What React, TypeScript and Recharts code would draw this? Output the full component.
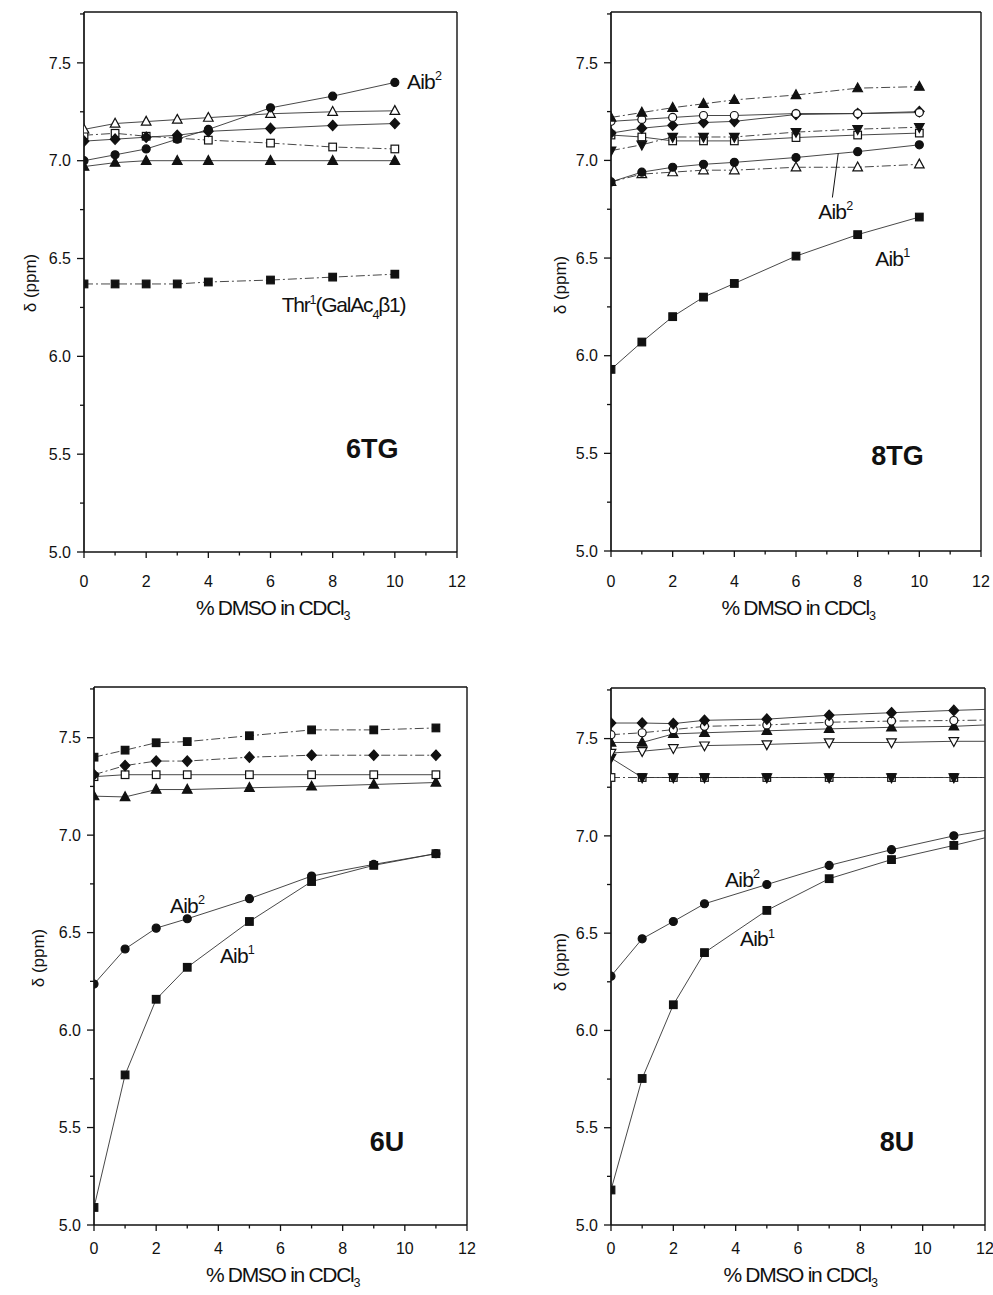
import React from 'react';
import { LineChart, Line, XAxis, YAxis, ReferenceDot, ReferenceLine, Label } from 'recharts';

const FONT = '"Liberation Sans", Arial, Helvetica, sans-serif';
const INK = '#111';
const W = 993;
const H = 1295;
const YW = 60;
const XH = 60;

// ---------- shared axes ----------
const xTicks = [0, 1, 2, 3, 4, 5, 6, 7, 8, 9, 10, 11, 12];
const yTicks = [5, 5.25, 5.5, 5.75, 6, 6.25, 6.5, 6.75, 7, 7.25, 7.5, 7.75];
const Y_DOMAIN = [5, 7.76];

// ---------- 6TG ----------
const tg6X = [0, 1, 2, 3, 4, 6, 8, 10];
const tg6Aib2 = [7.0, 7.03, 7.06, 7.11, 7.16, 7.27, 7.33, 7.40];
const tg6OpenTri = [7.16, 7.19, 7.2, 7.21, 7.22, 7.24, 7.25, 7.255];
const tg6Diamond = [7.1, 7.11, 7.12, 7.13, 7.15, 7.165, 7.18, 7.19];
const tg6OpenSq = [7.13, 7.14, 7.125, 7.115, 7.105, 7.09, 7.07, 7.06];
const tg6Tri = [6.97, 6.99, 7.0, 7.0, 7.0, 7.0, 7.0, 7.0];
const tg6Thr = [6.37, 6.37, 6.37, 6.37, 6.38, 6.39, 6.405, 6.42];

// ---------- 8TG ----------
const tg8X = [0, 1, 2, 3, 4, 6, 8, 10];
const tg8Tri = [7.22, 7.245, 7.27, 7.29, 7.31, 7.335, 7.37, 7.378];
const tg8OpenCircle = [7.2, 7.21, 7.22, 7.23, 7.23, 7.24, 7.24, 7.245];
const tg8Diamond = [7.14, 7.165, 7.18, 7.194, 7.2, 7.235, 7.24, 7.25];
const tg8InvTri = [7.05, 7.08, 7.12, 7.12, 7.12, 7.145, 7.16, 7.17];
const tg8OpenSq = [7.13, 7.12, 7.1, 7.1, 7.1, 7.117, 7.13, 7.14];
const tg8Aib2 = [6.89, 6.94, 6.965, 6.98, 6.99, 7.015, 7.045, 7.08];
const tg8OpenTri = [6.89, 6.93, 6.94, 6.95, 6.95, 6.965, 6.965, 6.98];
const tg8Aib1 = [5.93, 6.07, 6.2, 6.3, 6.37, 6.51, 6.62, 6.71];

// ---------- 6U ----------
const u6X = [0, 1, 2, 3, 5, 7, 9, 11];
const u6Sq = [7.4, 7.436, 7.474, 7.48, 7.51, 7.54, 7.54, 7.55];
const u6Diamond = [7.31, 7.357, 7.38, 7.38, 7.4, 7.41, 7.41, 7.41];
const u6OpenSq = [7.3, 7.31, 7.31, 7.31, 7.31, 7.31, 7.31, 7.31];
const u6Tri = [7.2, 7.196, 7.234, 7.234, 7.243, 7.25, 7.26, 7.27];
const u6Aib2 = [6.236, 6.416, 6.523, 6.571, 6.674, 6.79, 6.85, 6.905];
const u6Aib1 = [5.09, 5.77, 6.158, 6.322, 6.557, 6.762, 6.845, 6.905];

// ---------- 8U (last x = line end at the frame, no marker) ----------
const u8X = [0, 1, 2, 3, 5, 7, 9, 11, 12];
const u8Diamond = [7.58, 7.58, 7.577, 7.594, 7.6, 7.62, 7.633, 7.645, 7.65];
const u8OpenCircle = [7.52, 7.53, 7.546, 7.563, 7.57, 7.584, 7.59, 7.593, 7.595];
const u8Tri = [7.48, 7.48, 7.524, 7.53, 7.54, 7.55, 7.558, 7.563, 7.57];
const u8OpenInvTri = [7.426, 7.435, 7.45, 7.464, 7.47, 7.48, 7.48, 7.486, 7.486];
const u8OpenSq = [7.3, 7.3, 7.3, 7.3, 7.3, 7.3, 7.3, 7.3, 7.3];
const u8InvTri = [7.4, 7.3, 7.3, 7.3, 7.3, 7.3, 7.3, 7.3, 7.3];
const u8Aib2 = [6.279, 6.471, 6.56, 6.651, 6.75, 6.848, 6.929, 7.0, 7.028];
const u8Aib1 = [5.18, 5.753, 6.132, 6.4, 6.617, 6.78, 6.878, 6.951, 6.99];

type Shape = 'circle' | 'square' | 'tri' | 'invTri' | 'diamond';
type Series = { key: string; values: number[]; shape: Shape; filled: boolean; dash?: string };
type Part = { t: string; k?: 'sup' | 'sub' };
type Note = { x: number; y: number; parts: Part[]; size: number; anchor: string; bold?: boolean; spacing?: number };

const DASH = '9 3 2 3';

function Marker({ cx, cy, shape, filled }: { cx: number; cy: number; shape: Shape; filled: boolean }) {
  const common = { fill: filled ? INK : '#fff', stroke: INK, strokeWidth: 1.2 };
  switch (shape) {
    case 'circle':
      return <circle cx={cx} cy={cy} r={4} {...common} />;
    case 'square':
      return <rect x={cx - 3.8} y={cy - 3.8} width={7.6} height={7.6} {...common} />;
    case 'tri':
      return <polygon points={`${cx},${cy - 5.2} ${cx + 4.8},${cy + 3.6} ${cx - 4.8},${cy + 3.6}`} {...common} />;
    case 'invTri':
      return <polygon points={`${cx},${cy + 5.2} ${cx + 4.8},${cy - 3.6} ${cx - 4.8},${cy - 3.6}`} {...common} />;
    case 'diamond':
      return <polygon points={`${cx},${cy - 5.2} ${cx + 4.8},${cy} ${cx},${cy + 5.2} ${cx - 4.8},${cy}`} {...common} />;
  }
  return null;
}

const makeDot = (s: Series) => (p: any) => {
  const { cx, cy, payload, index } = p;
  if (cx == null || cy == null || payload == null || payload.x >= 12) return <g key={`${s.key}-${index}`} />;
  return (
    <g key={`${s.key}-${index}`}>
      <Marker cx={cx} cy={cy} shape={s.shape} filled={s.filled} />
    </g>
  );
};

function RichText({ x, y, parts, size, anchor = 'start', bold = false, spacing = 0, subShift = 0.3 }: any) {
  let cur = 0;
  const kids = parts.map((p: Part, i: number) => {
    const target = p.k === 'sup' ? -0.42 * size : p.k === 'sub' ? subShift * size : 0;
    const dy = target - cur;
    cur = target;
    return (
      <tspan key={i} dy={dy} fontSize={p.k ? size * 0.6 : size}>
        {p.t}
      </tspan>
    );
  });
  return (
    <text x={x} y={y} textAnchor={anchor} fontFamily={FONT} fontSize={size} fontWeight={bold ? 'bold' : 'normal'} letterSpacing={spacing} fill={INK}>
      {kids}
    </text>
  );
}

const makeXTick = (axisY: number, baseline: number) => (props: any) => {
  const { x, payload, index } = props;
  const v = payload.value;
  const major = v % 2 === 0;
  return (
    <g key={`xt-${index}`}>
      <line x1={x} x2={x} y1={axisY} y2={axisY + (major ? 6 : 3.5)} stroke={INK} strokeWidth={1.3} />
      {major && (
        <text x={x} y={baseline} textAnchor="middle" fontFamily={FONT} fontSize={16} fill={INK}>
          {v}
        </text>
      )}
    </g>
  );
};

const makeYTick = (axisX: number) => (props: any) => {
  const { y, payload, index } = props;
  const v = payload.value;
  const major = Math.abs(v * 2 - Math.round(v * 2)) < 1e-6;
  return (
    <g key={`yt-${index}`}>
      <line x1={axisX - (major ? 7 : 4)} x2={axisX} y1={y} y2={y} stroke={INK} strokeWidth={1.3} />
      {major && (
        <text x={axisX - 13} y={y} dy="0.36em" textAnchor="end" fontFamily={FONT} fontSize={16} fill={INK}>
          {v.toFixed(1)}
        </text>
      )}
    </g>
  );
};

type PanelCfg = {
  left: number;
  right: number;
  top: number;
  bottom: number;
  tickBaseline: number;
  titleBaseline: number;
  yLabelX: number;
  yLabelY: number;
  xs: number[];
  series: Series[];
  notes: Note[];
  leader?: { x1: number; y1: number; x2: number; y2: number };
};

const aib = (n: string): Part[] => [{ t: 'Aib' }, { t: n, k: 'sup' }];

const panels: PanelCfg[] = [
  {
    left: 84, right: 457, top: 12, bottom: 552, tickBaseline: 587, titleBaseline: 615, yLabelX: 30, yLabelY: 283,
    xs: tg6X,
    series: [
      { key: 'thr', values: tg6Thr, shape: 'square', filled: true, dash: DASH },
      { key: 'tri', values: tg6Tri, shape: 'tri', filled: true },
      { key: 'osq', values: tg6OpenSq, shape: 'square', filled: false, dash: DASH },
      { key: 'otri', values: tg6OpenTri, shape: 'tri', filled: false },
      { key: 'dia', values: tg6Diamond, shape: 'diamond', filled: true },
      { key: 'aib2', values: tg6Aib2, shape: 'circle', filled: true },
    ],
    notes: [
      { x: 10.39, y: 7.367, parts: aib('2'), size: 21, anchor: 'start', spacing: -0.8 },
      { x: 6.36, y: 6.225, parts: [{ t: 'Thr' }, { t: '1', k: 'sup' }, { t: '(GalAc' }, { t: '4', k: 'sub' }, { t: '\u03b21)' }], size: 21, anchor: 'start', spacing: -1.2 },
      { x: 9.27, y: 5.48, parts: [{ t: '6TG' }], size: 27, anchor: 'middle', bold: true },
    ],
  },
  {
    left: 611, right: 981, top: 12, bottom: 551, tickBaseline: 587, titleBaseline: 615, yLabelX: 560, yLabelY: 285,
    xs: tg8X,
    series: [
      { key: 'aib1', values: tg8Aib1, shape: 'square', filled: true },
      { key: 'otri', values: tg8OpenTri, shape: 'tri', filled: false, dash: DASH },
      { key: 'aib2', values: tg8Aib2, shape: 'circle', filled: true },
      { key: 'osq', values: tg8OpenSq, shape: 'square', filled: false },
      { key: 'itri', values: tg8InvTri, shape: 'invTri', filled: true, dash: DASH },
      { key: 'dia', values: tg8Diamond, shape: 'diamond', filled: true },
      { key: 'ocir', values: tg8OpenCircle, shape: 'circle', filled: false },
      { key: 'tri', values: tg8Tri, shape: 'tri', filled: true, dash: DASH },
    ],
    notes: [
      { x: 6.72, y: 6.7, parts: aib('2'), size: 21, anchor: 'start', spacing: -0.8 },
      { x: 8.57, y: 6.46, parts: aib('1'), size: 21, anchor: 'start', spacing: -0.8 },
      { x: 9.29, y: 5.44, parts: [{ t: '8TG' }], size: 27, anchor: 'middle', bold: true },
    ],
    leader: { x1: 7.37, y1: 7.036, x2: 7.18, y2: 6.81 },
  },
  {
    left: 94, right: 467, top: 687, bottom: 1225, tickBaseline: 1254, titleBaseline: 1282, yLabelX: 38, yLabelY: 958,
    xs: u6X,
    series: [
      { key: 'aib1', values: u6Aib1, shape: 'square', filled: true },
      { key: 'aib2', values: u6Aib2, shape: 'circle', filled: true },
      { key: 'tri', values: u6Tri, shape: 'tri', filled: true },
      { key: 'osq', values: u6OpenSq, shape: 'square', filled: false },
      { key: 'dia', values: u6Diamond, shape: 'diamond', filled: true, dash: DASH },
      { key: 'sq', values: u6Sq, shape: 'square', filled: true, dash: DASH },
    ],
    notes: [
      { x: 2.445, y: 6.603, parts: aib('2'), size: 21, anchor: 'start', spacing: -0.8 },
      { x: 4.05, y: 6.343, parts: aib('1'), size: 21, anchor: 'start', spacing: -0.8 },
      { x: 9.43, y: 5.38, parts: [{ t: '6U' }], size: 27, anchor: 'middle', bold: true },
    ],
  },
  {
    left: 611, right: 985, top: 688, bottom: 1225, tickBaseline: 1254, titleBaseline: 1282, yLabelX: 560, yLabelY: 962,
    xs: u8X,
    series: [
      { key: 'aib1', values: u8Aib1, shape: 'square', filled: true },
      { key: 'aib2', values: u8Aib2, shape: 'circle', filled: true },
      { key: 'osq', values: u8OpenSq, shape: 'square', filled: false, dash: DASH },
      { key: 'itri', values: u8InvTri, shape: 'invTri', filled: true },
      { key: 'oitri', values: u8OpenInvTri, shape: 'invTri', filled: false },
      { key: 'tri', values: u8Tri, shape: 'tri', filled: true },
      { key: 'ocir', values: u8OpenCircle, shape: 'circle', filled: false, dash: DASH },
      { key: 'dia', values: u8Diamond, shape: 'diamond', filled: true },
    ],
    notes: [
      { x: 3.66, y: 6.737, parts: aib('2'), size: 21, anchor: 'start', spacing: -0.8 },
      { x: 4.14, y: 6.432, parts: aib('1'), size: 21, anchor: 'start', spacing: -0.8 },
      { x: 9.18, y: 5.38, parts: [{ t: '8U' }], size: 27, anchor: 'middle', bold: true },
    ],
  },
];

function Panel({ cfg }: { cfg: PanelCfg }) {
  const rows = cfg.xs.map((x, i) => {
    const r: any = { x };
    cfg.series.forEach((s) => {
      r[s.key] = s.values[i];
    });
    return r;
  });
  const titleX = (cfg.left + cfg.right) / 2 + 2;
  return (
    <div style={{ position: 'absolute', left: 0, top: 0, width: W, height: H }}>
      <LineChart
        width={W}
        height={H}
        data={rows}
        margin={{ top: cfg.top, left: cfg.left - YW, right: W - cfg.right, bottom: H - cfg.bottom - XH }}
      >
        <XAxis
          dataKey="x"
          type="number"
          domain={[0, 12]}
          ticks={xTicks}
          interval={0}
          allowDataOverflow
          height={XH}
          tickLine={false}
          tickSize={0}
          tickMargin={0}
          axisLine={{ stroke: INK, strokeWidth: 1.7 }}
          tick={makeXTick(cfg.bottom, cfg.tickBaseline)}
        >
          <Label
            content={() => (
              <RichText
                x={titleX}
                y={cfg.titleBaseline}
                parts={[{ t: '% DMSO in CDCl' }, { t: '3', k: 'sub' }]}
                size={21}
                anchor="middle"
                spacing={-1.3}
                subShift={0.22}
              />
            )}
          />
        </XAxis>
        <YAxis
          type="number"
          domain={Y_DOMAIN}
          ticks={yTicks}
          interval={0}
          allowDataOverflow
          width={YW}
          tickLine={false}
          tickSize={0}
          tickMargin={0}
          axisLine={{ stroke: INK, strokeWidth: 1.7 }}
          tick={makeYTick(cfg.left)}
        >
          <Label
            content={() => (
              <text
                x={cfg.yLabelX}
                y={cfg.yLabelY}
                transform={`rotate(-90, ${cfg.yLabelX}, ${cfg.yLabelY})`}
                textAnchor="middle"
                dominantBaseline="central"
                fontFamily={FONT}
                fontSize={17}
                fill={INK}
              >
                {'\u03b4 (ppm)'}
              </text>
            )}
          />
        </YAxis>
        <ReferenceLine x={12} stroke={INK} strokeWidth={1.4} />
        <ReferenceLine y={7.76} stroke={INK} strokeWidth={1.4} />
        {cfg.series.map((s) => (
          <Line
            key={s.key}
            dataKey={s.key}
            type="linear"
            stroke="#333"
            strokeWidth={0.9}
            strokeDasharray={s.dash}
            dot={makeDot(s)}
            activeDot={false}
            isAnimationActive={false}
          />
        ))}
        {cfg.leader && (
          <ReferenceLine
            segment={[
              { x: cfg.leader.x1, y: cfg.leader.y1 },
              { x: cfg.leader.x2, y: cfg.leader.y2 },
            ]}
            stroke={INK}
            strokeWidth={1}
          />
        )}
        {cfg.notes.map((n, i) => (
          <ReferenceDot
            key={`note-${i}`}
            x={n.x}
            y={n.y}
            r={0.01}
            fill="none"
            stroke="none"
            label={(p: any) => {
              const vb = p.viewBox || { x: 0, y: 0, width: 0, height: 0 };
              return (
                <RichText
                  x={vb.x + (vb.width || 0) / 2}
                  y={vb.y + (vb.height || 0) / 2}
                  parts={n.parts}
                  size={n.size}
                  anchor={n.anchor}
                  bold={n.bold}
                  spacing={n.spacing || 0}
                />
              );
            }}
          />
        ))}
      </LineChart>
    </div>
  );
}

export default function App() {
  return (
    <div style={{ position: 'absolute', left: 0, top: 0, width: W, height: H, background: '#fff' }}>
      {panels.map((cfg, i) => (
        <Panel key={i} cfg={cfg} />
      ))}
    </div>
  );
}
